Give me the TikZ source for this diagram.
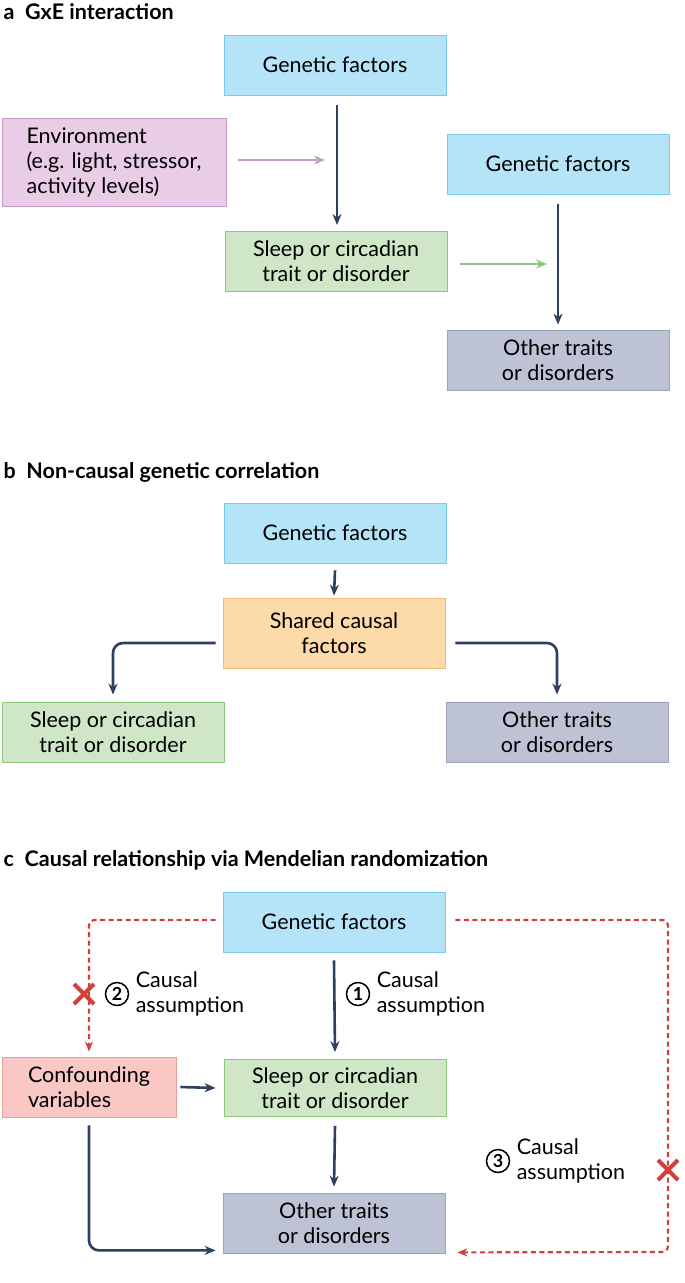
\documentclass[tikz,border=0pt]{standalone}
\usepackage{fontspec}
\setmainfont{Lato}
\usetikzlibrary{arrows.meta,positioning}
\definecolor{navy}{HTML}{2E3F63}
\definecolor{redx}{HTML}{D0413C}
\definecolor{bluef}{HTML}{B5E4F8}\definecolor{blued}{HTML}{74CDEF}
\definecolor{greenf}{HTML}{CFE7C6}\definecolor{greend}{HTML}{8CC97B}
\definecolor{purplef}{HTML}{E9CDE7}\definecolor{purpled}{HTML}{C79CCB}
\definecolor{orangef}{HTML}{FDDAAA}\definecolor{oranged}{HTML}{F3BA70}
\definecolor{grayf}{HTML}{BDC2D4}\definecolor{grayd}{HTML}{9CA2BA}
\definecolor{pinkf}{HTML}{F9C8C5}\definecolor{pinkd}{HTML}{EE9D98}
\begin{document}
\begin{tikzpicture}[
    x=1pt, y=-1pt,
    every node/.style={font=\fontsize{21.5}{25}\selectfont},
    box/.style={rectangle, draw, line width=0.8pt, minimum width=222pt, minimum height=60pt, align=center, inner sep=2pt},
    genetic/.style={box, fill=bluef, draw=blued},
    sleep/.style={box, fill=greenf, draw=greend},
    other/.style={box, fill=grayf, draw=grayd},
    env/.style={box, fill=purplef, draw=purpled, minimum width=224pt, minimum height=88pt, align=left},
    shared/.style={box, fill=orangef, draw=oranged, minimum height=70pt},
    confound/.style={box, fill=pinkf, draw=pinkd, minimum width=174pt, align=left},
    title/.style={anchor=west, font=\fontsize{21.5}{25}\selectfont\bfseries},
    arrow/.style={-{Stealth[length=11pt,width=9pt]}, line width=2.6pt, draw=navy},
    dasharrow/.style={-{Stealth[length=10pt,width=8pt]}, line width=2.2pt, draw=redx, dash pattern=on 5pt off 3.5pt, rounded corners=6pt},
    num/.style={circle, draw, line width=1.5pt, inner sep=0.5pt, minimum size=23pt, font=\fontsize{18}{18}\selectfont\bfseries},
    note/.style={align=left, anchor=west}
]
\useasboundingbox (0,0) rectangle (685,1283);

% Panel a
\node[title] (ta) at (0,12) {a\enspace GxE interaction};
\node[genetic] (gen_a) at (335,65) {Genetic factors};
\node[env] (env) at (114,162) {Environment\\(e.g. light, stressor,\\activity levels)};
\node[sleep] (sleep_a) at (336,261) {Sleep or circadian\\trait or disorder};
\node[genetic] (gen_a2) at (558,164) {Genetic factors};
\node[other] (other_a) at (558,360) {Other traits\\or disorders};
\coordinate (ga_s) at (337,105);
\coordinate (ga_e) at (337,225);
\coordinate (env_s) at (238,160);
\coordinate (env_to) at (325,160);
\coordinate (sl_s) at (460,264);
\coordinate (sleep_to) at (547,264);
\draw[arrow] (ga_s) -- (ga_e);
\draw[-{Stealth[length=11pt,width=9pt]}, line width=2.6pt, draw=purpled] (env_s) -- (env_to);
\draw[-{Stealth[length=11pt,width=9pt]}, line width=2.6pt, draw=greend] (sl_s) -- (sleep_to);
\draw[arrow] ([yshift=-10pt]gen_a2.south) -- ([yshift=5pt]other_a.north);

% Panel b
\node[title] (tb) at (0,472) {b\enspace Non-causal genetic correlation};
\node[genetic] (gen_b) at (335,533) {Genetic factors};
\node[shared] (shared) at (334,633) {Shared causal\\factors};
\node[sleep] (sleep_b) at (113,732) {Sleep or circadian\\trait or disorder};
\node[other] (other_b) at (557,732) {Other traits\\or disorders};
\draw[arrow] ([yshift=-7pt]gen_b.south) -- ([yshift=2pt]shared.north);
\draw[arrow, rounded corners=10pt] ([xshift=-7pt,yshift=-10pt]shared.west) -| ([yshift=7pt]sleep_b.north);
\draw[arrow, rounded corners=10pt] ([xshift=10pt,yshift=-10pt]shared.east) -| ([yshift=7pt]other_b.north);

% Panel c
\node[title] (tc) at (0,860) {c\enspace Causal relationship via Mendelian randomization};
\node[genetic] (gen_c) at (334,922) {Genetic factors};
\node[confound] (conf) at (89,1087) {Confounding\\variables};
\node[sleep, minimum height=57pt] (sleep_c) at (335,1088) {Sleep or circadian\\trait or disorder};
\node[other] (other_c) at (334,1223) {Other traits\\or disorders};
\draw[arrow] ([yshift=-8pt]gen_c.south) -- ([yshift=7pt]sleep_c.north);
\draw[arrow] ([xshift=4pt]conf.east) -- ([xshift=-8pt]sleep_c.west);
\draw[arrow] ([yshift=-9pt]sleep_c.south) -- ([yshift=6pt]other_c.north);
\draw[arrow, rounded corners=10pt] ([yshift=-8pt]conf.south) |- ([xshift=-7pt,yshift=3pt]other_c.south west);
\draw[dasharrow] ([xshift=-7pt,yshift=2pt]gen_c.west) -| ([yshift=5pt]conf.north);
\draw[dasharrow] ([xshift=10pt,yshift=2pt]gen_c.east) -| (668,1252) -- ([xshift=12pt,yshift=1pt]other_c.south east);
% crosses
\coordinate (x2) at (84,994);
\coordinate (x3) at (668,1170);
\foreach \c in {x2,x3}
  \draw[redx, line width=4pt] ([shift={(-10,-10)}]\c) -- ([shift={(10,10)}]\c)
                              ([shift={(-10,10)}]\c) -- ([shift={(10,-10)}]\c);
\node[num] (n1) at (358,994) {1};
\node[note, right=3pt of n1] (c1) {Causal\\assumption};
\node[num] (n2) at (117,994) {2};
\node[note, right=3pt of n2] (c2) {Causal\\assumption};
\node[num] (n3) at (498,1161) {3};
\node[note, right=3pt of n3] (c3) {Causal\\assumption};
\end{tikzpicture}
\end{document}
